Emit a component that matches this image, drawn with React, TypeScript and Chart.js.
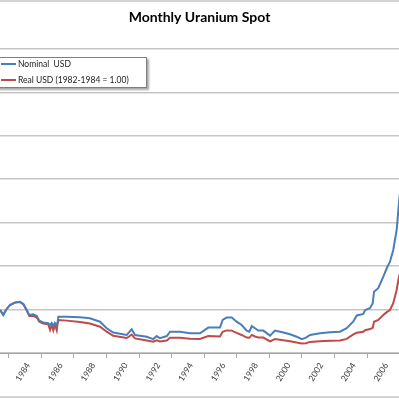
import React, { useEffect, useRef } from "react";
import { Chart, registerables } from "chart.js";

Chart.register(...registerables);

const chartTitle = "Monthly Uranium Spot";
const seriesNames = ["Nominal  USD", "Real USD (1982-1984 = 1.00)"];

const dates = [
  1982.46, 1982.66, 1982.82, 1983.07, 1983.38, 1983.68, 1983.89, 1984.1, 1984.25, 1984.5,
  1984.71, 1984.87, 1985.11, 1985.42, 1985.53, 1985.63, 1985.73, 1985.83, 1985.94, 1985.99,
  1986.04, 1986.55, 1987.37, 1987.98, 1988.6, 1989.01, 1989.41, 1990.24, 1990.38, 1990.54,
  1990.75, 1991.47, 1991.87, 1992.08, 1992.28, 1992.7, 1992.9, 1993.51, 1994.13, 1994.74,
  1995.25, 1995.97, 1996.13, 1996.38, 1996.69, 1996.99, 1997.3, 1997.61, 1997.77, 1997.92,
  1998.12, 1998.32, 1998.63, 1999.04, 1999.35, 1999.86, 2000.27, 2000.68, 2000.99, 2001.25,
  2001.5, 2002.11, 2002.73, 2003.34, 2003.75, 2004.16, 2004.37, 2004.77, 2004.88, 2005.18,
  2005.35, 2005.43, 2005.69, 2006.0, 2006.21, 2006.41, 2006.61, 2006.82, 2006.96, 2007.04,
];

const nominalUsd = [
  19.8, 17.5, 19.8, 22.1, 23.2, 23.6, 22.6, 19.8, 17.5, 17.8,
  17.0, 14.9, 14.1, 13.7, 12.8, 13.8, 12.6, 13.8, 12.8, 14.0,
  16.7, 16.7, 16.4, 16.0, 14.4, 11.4, 9.4, 8.3, 9.5, 10.9,
  8.3, 7.5, 6.4, 7.8, 6.8, 7.8, 9.8, 9.8, 9.1, 9.1,
  11.7, 11.7, 15.2, 16.3, 16.3, 14.4, 12.9, 10.3, 9.8, 12.4,
  11.4, 10.3, 10.3, 8.0, 10.3, 9.4, 8.6, 7.5, 6.4, 7.1,
  8.3, 9.1, 9.5, 9.8, 11.4, 14.5, 17.3, 18.0, 19.8, 20.6,
  22.9, 28.2, 29.8, 35.1, 39.0, 42.0, 47.4, 56.6, 68.9, 75.0,
];

const realUsd = [
  19.8, 17.6, 19.8, 22.1, 23.2, 23.5, 22.4, 19.5, 17.0, 17.1,
  16.3, 14.4, 13.6, 13.2, 10.6, 13.0, 10.4, 13.0, 10.4, 13.3,
  15.2, 14.9, 14.3, 13.6, 12.1, 9.8, 7.9, 6.9, 7.6, 8.5,
  6.7, 5.8, 5.2, 5.8, 5.3, 5.7, 7.0, 7.0, 6.6, 6.5,
  7.8, 7.6, 9.8, 10.4, 10.3, 9.3, 8.3, 7.1, 7.0, 8.3,
  7.6, 7.1, 7.1, 5.3, 6.4, 5.9, 5.4, 4.8, 4.4, 4.5,
  5.1, 5.4, 5.6, 5.8, 6.5, 8.6, 9.3, 9.8, 10.5, 11.0,
  11.6, 14.4, 15.2, 17.5, 18.8, 19.8, 22.9, 29.0, 35.1, 37.0,
];

const tickYears = [
  1983, 1984, 1985, 1986, 1987, 1988, 1989, 1990, 1991, 1992, 1993, 1994,
  1995, 1996, 1997, 1998, 1999, 2000, 2001, 2002, 2003, 2004, 2005, 2006,
];
const yTicks = [0, 20, 40, 60, 80, 100, 120, 140];

const BLUE = "#4a7ebb";
const RED = "#be4b48";

export default function App() {
  const ref = useRef<HTMLCanvasElement | null>(null);

  useEffect(() => {
    if (!ref.current) return;
    const chart = new Chart(ref.current, {
      type: "line",
      data: {
        datasets: [
          {
            label: seriesNames[0],
            data: dates.map((d, i) => ({ x: d, y: nominalUsd[i] })),
            borderColor: BLUE,
            borderWidth: 2,
            pointRadius: 0,
            tension: 0,
          },
          {
            label: seriesNames[1],
            data: dates.map((d, i) => ({ x: d, y: realUsd[i] })),
            borderColor: RED,
            borderWidth: 2,
            pointRadius: 0,
            tension: 0,
          },
        ],
      },
      options: {
        animation: false,
        responsive: false,
        layout: { padding: 0 },
        plugins: {
          legend: { display: false },
          tooltip: { enabled: false },
          title: {
            display: true,
            text: chartTitle,
            color: "#000",
            font: { family: "Lato", size: 14, weight: "bold" },
            padding: { top: 9, bottom: 23 },
          },
        },
        scales: {
          x: {
            type: "linear",
            min: 1982.455,
            max: 2006.964,
            afterBuildTicks: (scale: any) => {
              scale.ticks = tickYears.map((v) => ({ value: v }));
            },
            afterFit: (scale: any) => {
              scale.height = 46;
            },
            ticks: {
              autoSkip: false,
              minRotation: 58,
              maxRotation: 58,
              padding: 3,
              labelOffset: 3,
              color: "#404040",
              font: { family: "Lato", size: 8.5 },
              callback: (v: any) => (Number(v) % 2 === 0 ? String(v) : ""),
            },
            grid: {
              drawOnChartArea: false,
              drawTicks: true,
              tickLength: 5,
              color: (ctx: any) =>
                ctx.tick && Number(ctx.tick.value) % 2 === 1 ? "#a6a6a6" : "rgba(0,0,0,0)",
            },
            border: { display: true, color: "#a6a6a6", width: 1 },
          },
          y: {
            min: 0,
            max: 140,
            afterBuildTicks: (scale: any) => {
              scale.ticks = yTicks.map((v) => ({ value: v }));
            },
            ticks: { display: false },
            grid: {
              drawTicks: false,
              color: "#c6c6c6",
              lineWidth: 1.5,
            },
            border: { display: false },
          },
        },
      },
    });
    return () => chart.destroy();
  }, []);

  return (
    <div
      style={{
        position: "fixed",
        left: 0,
        top: 0,
        width: 399,
        height: 399,
        background: "#fff",
        overflow: "hidden",
      }}
    >
      <canvas ref={ref} width={399} height={399} style={{ display: "block" }} />
      <div style={{ position: "absolute", left: 0, top: 0, width: 399, height: 2, background: "#d4d4d4" }} />
      <div style={{ position: "absolute", left: 0, top: 396, width: 399, height: 2, background: "#d4d4d4" }} />
      <div
        style={{
          position: "absolute",
          left: -4,
          top: 57,
          width: 149,
          height: 29,
          border: "1px solid #7f7f7f",
          boxShadow: "2px 2px 2px rgba(0,0,0,0.35)",
          background: "#fff",
          fontFamily: "Lato",
          fontSize: "8.5px",
          color: "#1a1a1a",
        }}
      >
        <div style={{ position: "absolute", left: 4, top: 5, width: 15, height: 2, background: BLUE }} />
        <div style={{ position: "absolute", left: 21, top: 1, lineHeight: "10px", whiteSpace: "pre" }}>
          {seriesNames[0]}
        </div>
        <div style={{ position: "absolute", left: 4, top: 21, width: 15, height: 2, background: RED }} />
        <div style={{ position: "absolute", left: 21, top: 17, lineHeight: "10px", whiteSpace: "pre" }}>
          {seriesNames[1]}
        </div>
      </div>
    </div>
  );
}
